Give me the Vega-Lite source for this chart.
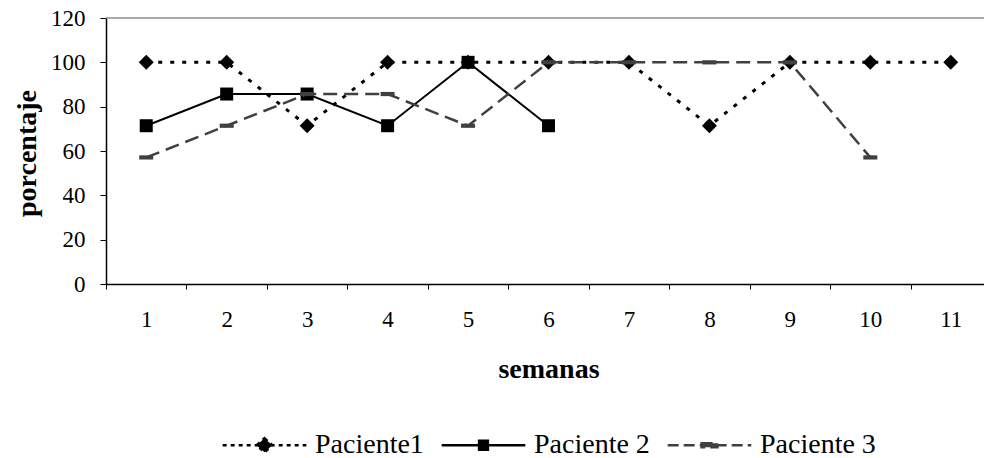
{
  "$schema": "https://vega.github.io/schema/vega-lite/v6.json",
  "width": 878,
  "height": 266,
  "autosize": "none",
  "padding": {"left": 106, "top": 18, "right": 0, "bottom": 174},
  "background": "white",
  "config": {
    "view": {"stroke": null},
    "font": "Liberation Serif",
    "legend": {"labelFont": "Liberation Serif", "labelFontSize": 28, "labelColor": "black", "titleFont": "Liberation Serif"}
  },
  "data": {
    "values": [
      {"semana": 1, "serie": "Paciente1", "valor": 100},
      {"semana": 2, "serie": "Paciente1", "valor": 100},
      {"semana": 3, "serie": "Paciente1", "valor": 71.4},
      {"semana": 4, "serie": "Paciente1", "valor": 100},
      {"semana": 5, "serie": "Paciente1", "valor": 100},
      {"semana": 6, "serie": "Paciente1", "valor": 100},
      {"semana": 7, "serie": "Paciente1", "valor": 100},
      {"semana": 8, "serie": "Paciente1", "valor": 71.4},
      {"semana": 9, "serie": "Paciente1", "valor": 100},
      {"semana": 10, "serie": "Paciente1", "valor": 100},
      {"semana": 11, "serie": "Paciente1", "valor": 100},
      {"semana": 1, "serie": "Paciente 2", "valor": 71.4},
      {"semana": 2, "serie": "Paciente 2", "valor": 85.7},
      {"semana": 3, "serie": "Paciente 2", "valor": 85.7},
      {"semana": 4, "serie": "Paciente 2", "valor": 71.4},
      {"semana": 5, "serie": "Paciente 2", "valor": 100},
      {"semana": 6, "serie": "Paciente 2", "valor": 71.4},
      {"semana": 1, "serie": "Paciente 3", "valor": 57.1},
      {"semana": 2, "serie": "Paciente 3", "valor": 71.4},
      {"semana": 3, "serie": "Paciente 3", "valor": 85.7},
      {"semana": 4, "serie": "Paciente 3", "valor": 85.7},
      {"semana": 5, "serie": "Paciente 3", "valor": 71.4},
      {"semana": 6, "serie": "Paciente 3", "valor": 100},
      {"semana": 7, "serie": "Paciente 3", "valor": 100},
      {"semana": 8, "serie": "Paciente 3", "valor": 100},
      {"semana": 9, "serie": "Paciente 3", "valor": 100},
      {"semana": 10, "serie": "Paciente 3", "valor": 57.1}
    ]
  },
  "layer": [
    {
      "data": {"values": [{"borde": 120}]},
      "mark": {"type": "rule", "color": "#8c8c8c", "strokeWidth": 1.5},
      "encoding": {
        "y": {"field": "borde", "type": "quantitative"}
      }
    },
    {
      "transform": [{"filter": "datum.serie == 'Paciente1'"}],
      "mark": {"type": "line", "color": "black", "strokeWidth": 3, "strokeDash": [4, 8]},
      "encoding": {
        "x": {
          "field": "semana", "type": "ordinal", "bandPosition": 0.5,
          "scale": {"type": "band", "domain": [1,2,3,4,5,6,7,8,9,10,11], "range": [0, 885], "paddingInner": 0, "paddingOuter": 0},
          "axis": {
            "title": "semanas", "titleFont": "Liberation Serif", "titleFontSize": 28, "titleFontWeight": "bold", "titleColor": "black",
            "titleX": 442.5, "titleY": 93, "titleAlign": "center", "titleBaseline": "alphabetic",
            "labelAngle": 0, "labelFont": "Liberation Serif", "labelFontSize": 23, "labelColor": "black", "labelPadding": 19, "labelBaseline": "top",
            "tickSize": 5, "tickBand": "extent", "tickColor": "black", "tickWidth": 1,
            "domainColor": "black", "domainWidth": 1.5, "grid": false
          }
        },
        "y": {
          "field": "valor", "type": "quantitative",
          "scale": {"domain": [0, 120], "nice": false},
          "axis": {
            "values": [0, 20, 40, 60, 80, 100, 120],
            "title": "porcentaje", "titleFont": "Liberation Serif", "titleFontSize": 28, "titleFontWeight": "bold", "titleColor": "black",
            "titleAngle": 270, "titleX": -71, "titleY": 135, "titleAlign": "center", "titleBaseline": "alphabetic",
            "labelFont": "Liberation Serif", "labelFontSize": 23, "labelColor": "black", "labelPadding": 15,
            "tickSize": 6, "tickColor": "black", "tickWidth": 1,
            "domainColor": "black", "domainWidth": 1.5, "grid": false
          }
        }
      }
    },
    {
      "transform": [{"filter": "datum.serie == 'Paciente1'"}],
      "mark": {"type": "point", "shape": "diamond", "filled": true, "size": 225, "color": "black", "opacity": 1, "strokeWidth": 0},
      "encoding": {
        "x": {"field": "semana", "type": "ordinal", "bandPosition": 0.5},
        "y": {"field": "valor", "type": "quantitative"}
      }
    },
    {
      "transform": [{"filter": "datum.serie == 'Paciente 2'"}],
      "mark": {"type": "line", "color": "black", "strokeWidth": 2},
      "encoding": {
        "x": {"field": "semana", "type": "ordinal", "bandPosition": 0.5},
        "y": {"field": "valor", "type": "quantitative"}
      }
    },
    {
      "transform": [{"filter": "datum.serie == 'Paciente 2'"}],
      "mark": {"type": "point", "shape": "square", "filled": true, "size": 169, "color": "black", "opacity": 1, "strokeWidth": 0},
      "encoding": {
        "x": {"field": "semana", "type": "ordinal", "bandPosition": 0.5},
        "y": {"field": "valor", "type": "quantitative"}
      }
    },
    {
      "transform": [{"filter": "datum.serie == 'Paciente 3'"}],
      "mark": {"type": "line", "color": "#404040", "strokeWidth": 2.5, "strokeDash": [14, 7]},
      "encoding": {
        "x": {"field": "semana", "type": "ordinal", "bandPosition": 0.5},
        "y": {"field": "valor", "type": "quantitative"}
      }
    },
    {
      "transform": [{"filter": "datum.serie == 'Paciente 3'"}],
      "mark": {"type": "point", "shape": "M-1,-0.3L1,-0.3L1,0.3L-1,0.3Z", "filled": true, "size": 196, "color": "#404040", "opacity": 1, "strokeWidth": 0},
      "encoding": {
        "x": {"field": "semana", "type": "ordinal", "bandPosition": 0.5},
        "y": {"field": "valor", "type": "quantitative"}
      }
    },
    {
      "transform": [{"filter": "false"}],
      "mark": {"type": "point", "filled": true, "opacity": 1},
      "encoding": {
        "fill": {
          "field": "serie", "type": "nominal",
          "scale": {"domain": ["Paciente1", "Paciente 2", "Paciente 3"], "range": ["#000000", "#000000", "#404040"]},
          "legend": {"orient": "none", "legendX": 113, "legendY": 381.5, "direction": "horizontal", "title": null, "symbolSize": 7744, "symbolStrokeWidth": 2.5, "labelFont": "Liberation Serif", "labelFontSize": 28, "labelColor": "black", "labelOffset": 5, "columnPadding": 12, "padding": 0, "labelLimit": 300}
        },
        "stroke": {
          "field": "serie", "type": "nominal",
          "scale": {"domain": ["Paciente1", "Paciente 2", "Paciente 3"], "range": ["#000000", "#000000", "#404040"]},
          "legend": {"orient": "none", "legendX": 113, "legendY": 381.5, "direction": "horizontal", "title": null, "symbolSize": 7744, "symbolStrokeWidth": 2.5, "labelFont": "Liberation Serif", "labelFontSize": 28, "labelColor": "black", "labelOffset": 5, "columnPadding": 12, "padding": 0, "labelLimit": 300}
        },
        "shape": {
          "field": "serie", "type": "nominal",
          "scale": {"domain": ["Paciente1", "Paciente 2", "Paciente 3"], "range": [
            "M-0.95,0L0.95,0M0,-0.16L0.18,0L0,0.16L-0.18,0Z",
            "M-0.95,0L0.95,0M-0.1,-0.1L0.1,-0.1L0.1,0.1L-0.1,0.1Z",
            "M-0.95,0L0.95,0M-0.18,-0.045L0.18,-0.045L0.18,0.045L-0.18,0.045Z"
          ]},
          "legend": {"orient": "none", "legendX": 113, "legendY": 381.5, "direction": "horizontal", "title": null, "symbolSize": 7744, "symbolStrokeWidth": 2.5, "labelFont": "Liberation Serif", "labelFontSize": 28, "labelColor": "black", "labelOffset": 5, "columnPadding": 12, "padding": 0, "labelLimit": 300}
        },
        "strokeDash": {
          "field": "serie", "type": "nominal",
          "scale": {"domain": ["Paciente1", "Paciente 2", "Paciente 3"], "range": [[4, 4], [1, 0], [11, 5]]},
          "legend": {"orient": "none", "legendX": 113, "legendY": 381.5, "direction": "horizontal", "title": null, "symbolSize": 7744, "symbolStrokeWidth": 2.5, "labelFont": "Liberation Serif", "labelFontSize": 28, "labelColor": "black", "labelOffset": 5, "columnPadding": 12, "padding": 0, "labelLimit": 300}
        }
      }
    }
  ]
}
